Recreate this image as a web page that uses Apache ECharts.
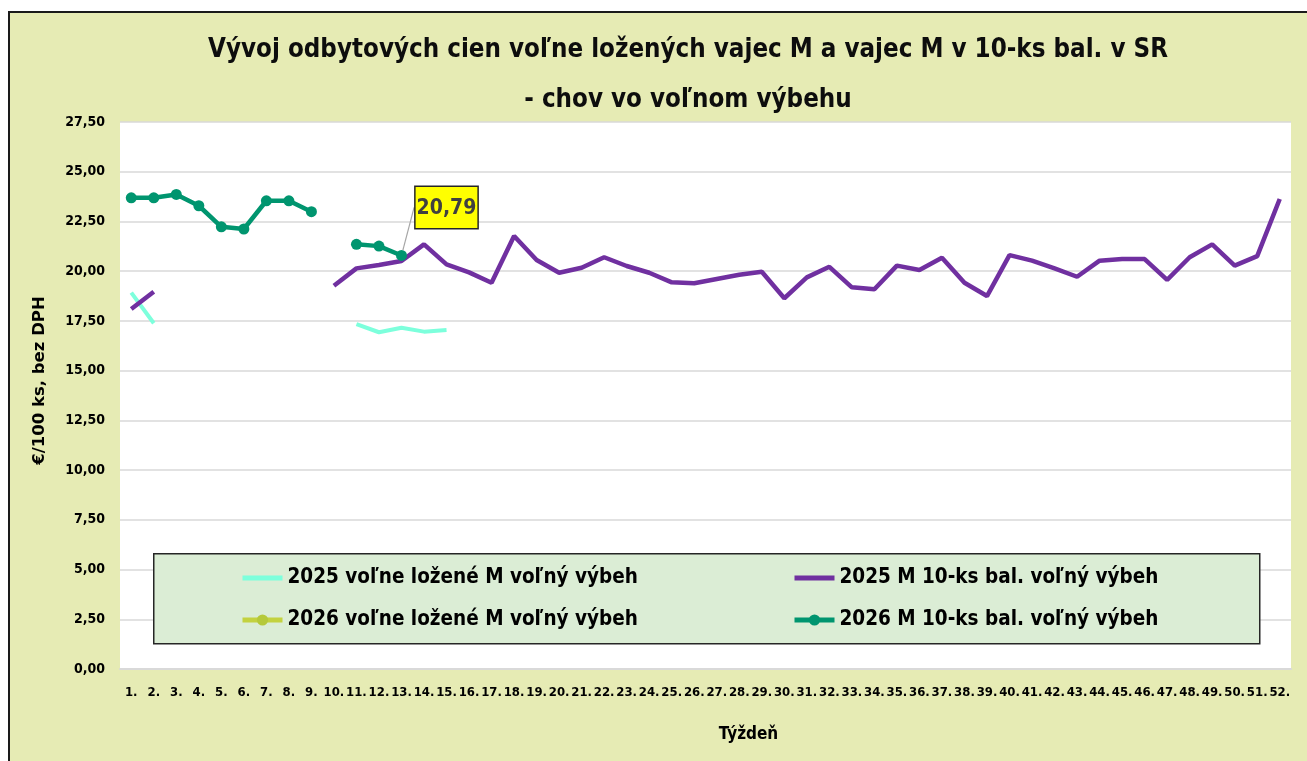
<!DOCTYPE html>
<html>
<head>
<meta charset="utf-8">
<script src="https://cdn.jsdelivr.net/npm/echarts@6/dist/echarts.min.js"></script>
<style>
  html, body { margin: 0; padding: 0; background: #fff; overflow: hidden; }
  #chart {
    position: absolute;
    left: 8px;
    top: 11px;
    width: 1299px;
    height: 750px;
    border-left: 2px solid #1a1a1a;
    border-top: 2px solid #1a1a1a;
    background: #e6ebb4;
  }
</style>
</head>
<body>
<div id="chart"></div>
<script>
const weeks = ['1.', '2.', '3.', '4.', '5.', '6.', '7.', '8.', '9.', '10.', '11.', '12.', '13.',
  '14.', '15.', '16.', '17.', '18.', '19.', '20.', '21.', '22.', '23.', '24.', '25.', '26.',
  '27.', '28.', '29.', '30.', '31.', '32.', '33.', '34.', '35.', '36.', '37.', '38.', '39.',
  '40.', '41.', '42.', '43.', '44.', '45.', '46.', '47.', '48.', '49.', '50.', '51.', '52.']

// 2025 voľne ložené M voľný výbeh
const loose2025 = [18.92, 17.38, null, null, null, null, null, null, null, null,
  17.34, 16.93, 17.16, 16.96, 17.04]

// 2025 M 10-ks bal. voľný výbeh
const pack2025 = [18.10, 18.97, null, null, null, null, null, null, null,
  19.27, 20.14, 20.31, 20.51, 21.35, 20.34, 19.94, 19.42, 21.77, 20.56, 19.92,
  20.17, 20.70, 20.26, 19.92, 19.44, 19.39, 19.61, 19.82, 19.97, 18.64,
  19.69, 20.22, 19.19, 19.09, 20.28, 20.06, 20.68, 19.42, 18.75, 20.81,
  20.53, 20.14, 19.72, 20.53, 20.61, 20.61, 19.56, 20.70, 21.35, 20.28,
  20.76, 23.63]

// 2026 voľne ložené M voľný výbeh (zatiaľ bez údajov)
const loose2026 = []

// 2026 M 10-ks bal. voľný výbeh
const pack2026 = [23.69, 23.69, 23.86, 23.29, 22.23, 22.12, 23.54, 23.54, 22.99, null,
  21.35, 21.26, 20.79]

const labeledWeek = '13.'

const yTicks = { min: 0, max: 27.5, interval: 2.5 }

const names = [
  '2025 voľne ložené M voľný výbeh',
  '2025 M 10-ks bal. voľný výbeh',
  '2026 voľne ložené M voľný výbeh',
  '2026 M 10-ks bal. voľný výbeh',
]

const FONT = "'Liberation Sans Narrow', 'DejaVu Sans Condensed', sans-serif"
const fmt = (v) => v.toFixed(2).replace('.', ',')

const chart = echarts.init(document.getElementById('chart'))

const labelIdx = weeks.indexOf(labeledWeek)
const pack2026Data = pack2026.map((v, i) => i === labelIdx ? {
  value: v,
  label: {
    show: true,
    position: 'top',
    formatter: (p) => fmt(p.value),
    fontFamily: FONT,
    fontWeight: 'bold',
    fontSize: 21,
    color: '#404040',
    backgroundColor: '#ffff00',
    borderColor: '#262626',
    borderWidth: 1.5,
    padding: [11, 1, 9, 1],
  },
  labelLine: { show: true, lineStyle: { color: '#a6a6a6', width: 1.2 } },
} : v)

// line-only legend entries: hide the symbol part of the icon
const noSymbol = { itemStyle: { opacity: 0 } }

const legendText = { fontFamily: FONT, fontWeight: 'bold', fontSize: 20.5, lineHeight: 30, color: '#000' }

chart.setOption({
  animation: false,
  title: {
    text: 'Vývoj odbytových cien voľne ložených vajec M a vajec M v 10-ks bal. v SR\n- chov vo voľnom výbehu',
    left: 673,
    top: 7,
    textAlign: 'center',
    textStyle: { fontFamily: FONT, fontWeight: 'bold', fontSize: 25.7, lineHeight: 50, color: '#0d0d0d' },
  },
  graphic: [{
    type: 'rect',
    left: 143,
    top: 540,
    z: 5,
    shape: { width: 1106, height: 90 },
    style: { fill: '#dbedd5', stroke: '#262626', lineWidth: 1.5 },
  }],
  legend: [
    {
      data: [{ name: names[0], ...noSymbol }, names[2]],
      orient: 'vertical',
      left: 230,
      top: 550,
      padding: 0,
      z: 10,
      itemWidth: 40,
      itemHeight: 14,
      itemGap: 12,
      lineStyle: { width: 5 },
      textStyle: legendText,
    },
    {
      data: [{ name: names[1], ...noSymbol }, names[3]],
      orient: 'vertical',
      left: 782,
      top: 550,
      padding: 0,
      z: 10,
      itemWidth: 40,
      itemHeight: 14,
      itemGap: 12,
      lineStyle: { width: 5 },
      textStyle: legendText,
    },
  ],
  grid: {
    left: 110, right: 18, top: 109, bottom: 94,
    show: true, backgroundColor: '#fff', borderWidth: 0,
  },
  xAxis: {
    type: 'category',
    data: weeks,
    boundaryGap: true,
    name: 'Týždeň',
    nameLocation: 'middle',
    nameGap: 57,
    nameTextStyle: { fontFamily: FONT, fontWeight: 'bold', fontSize: 17, color: '#000', padding: [0, 0, 0, 86] },
    axisLine: { lineStyle: { color: '#d9d9d9', width: 2 } },
    axisTick: { show: false },
    axisLabel: { interval: 0, margin: 17, fontFamily: FONT, fontWeight: 'bold', fontSize: 13, color: '#000' },
  },
  yAxis: {
    type: 'value',
    min: yTicks.min,
    max: yTicks.max,
    interval: yTicks.interval,
    name: '€/100 ks, bez DPH',
    nameLocation: 'middle',
    nameGap: 72,
    nameTextStyle: { fontFamily: 'DejaVu Sans', fontWeight: 'bold', fontSize: 16.5, color: '#000', padding: [0, 0, 0, 30] },
    axisLine: { show: false },
    axisTick: { show: false },
    splitLine: { lineStyle: { color: '#d9d9d9', width: 1.5 } },
    axisLabel: { margin: 15, fontFamily: FONT, fontWeight: 'bold', fontSize: 14, color: '#000', formatter: fmt },
  },
  series: [
    {
      name: names[0], type: 'line', data: loose2025, symbol: 'none', connectNulls: false,
      color: '#7dffdc', lineStyle: { width: 4, color: '#7dffdc' }, z: 2,
    },
    {
      name: names[1], type: 'line', data: pack2025, symbol: 'none', connectNulls: false,
      color: '#7030a0', lineStyle: { width: 4.5, color: '#7030a0' }, z: 3,
    },
    {
      name: names[2], type: 'line', data: loose2026, symbol: 'circle', symbolSize: 11,
      color: '#b5c93a', lineStyle: { width: 4.5, color: '#c3d23f' }, z: 4,
    },
    {
      name: names[3], type: 'line', data: pack2026Data, symbol: 'circle', symbolSize: 11,
      connectNulls: false, color: '#00956f', lineStyle: { width: 4.5, color: '#00956f' }, z: 5,
      labelLayout: { dx: 45, dy: -17 },
    },
  ],
})
</script>
</body>
</html>
